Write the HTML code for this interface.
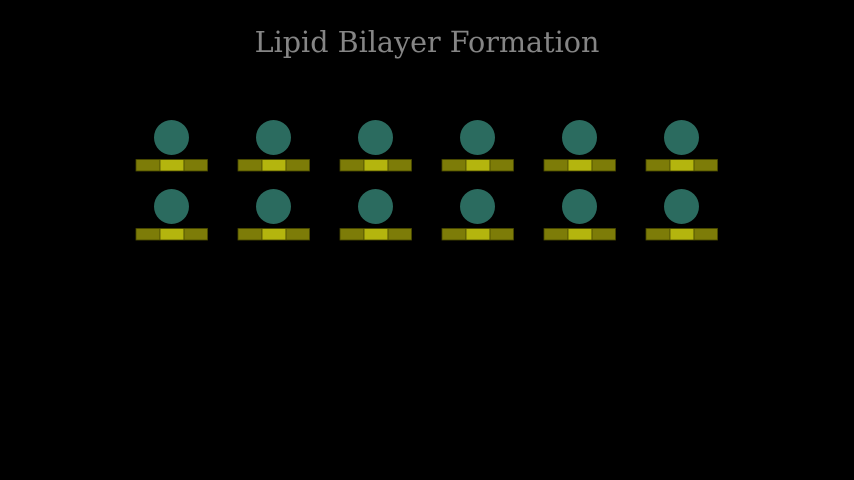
<!DOCTYPE html>
<html><head><meta charset="utf-8"><style>
html,body{margin:0;padding:0;background:#000;width:854px;height:480px;overflow:hidden}
</style></head><body>
<svg width="854" height="480" viewBox="0 0 854 480" xmlns="http://www.w3.org/2000/svg">
<rect width="854" height="480" fill="#000"/>
<text x="427" y="52" text-anchor="middle" font-family="DejaVu Serif, Liberation Serif, serif" font-size="28.6" fill="#858585">Lipid Bilayer Formation</text>
<defs>
<g id="u">
<circle cx="35.5" cy="0" r="17.5" fill="#2b6b5f"/>
<rect x="0" y="22" width="24" height="11.5" fill="#7d7c08" stroke="#4a4a00" stroke-width="0.8"/>
<rect x="24" y="22" width="24" height="11.5" fill="#b4b50e" stroke="#4a4a00" stroke-width="0.8"/>
<rect x="48" y="22" width="23.5" height="11.5" fill="#7d7c08" stroke="#4a4a00" stroke-width="0.8"/>
</g>
</defs>
<g transform="translate(136,137.5)">
<use href="#u" x="0"/><use href="#u" x="102"/><use href="#u" x="204"/><use href="#u" x="306"/><use href="#u" x="408"/><use href="#u" x="510"/>
</g>
<g transform="translate(136,206.5)">
<use href="#u" x="0"/><use href="#u" x="102"/><use href="#u" x="204"/><use href="#u" x="306"/><use href="#u" x="408"/><use href="#u" x="510"/>
</g>
</svg>
</body></html>
